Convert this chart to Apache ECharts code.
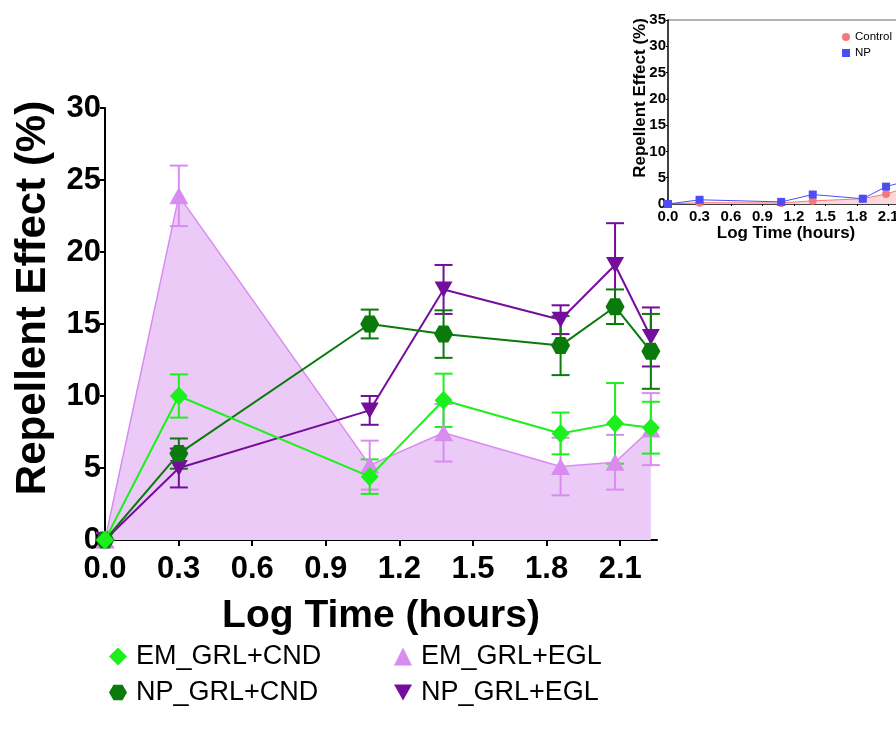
<!DOCTYPE html>
<html>
<head>
<meta charset="utf-8">
<script src="https://cdn.jsdelivr.net/npm/echarts@6/dist/echarts.min.js"></script>
<style>
  html, body { margin: 0; padding: 0; background: #fff; }
  #main { width: 896px; height: 729px; }
</style>
</head>
<body>
<div id="main"></div>
<script>
// log10(hours): 1, 2, 12, 24, 72, 120, 168
var logTime = [0, 0.301, 1.079, 1.380, 1.857, 2.079, 2.225];
var xTicks = [0, 0.3, 0.6, 0.9, 1.2, 1.5, 1.8, 2.1];

var emCnd = [0, 10.0, 4.4, 9.7, 7.4, 8.1, 7.8];
var emCndErr = [0, 1.5, 1.2, 1.85, 1.45, 2.8, 1.8];
var npCnd = [0, 6.0, 15.0, 14.3, 13.5, 16.2, 13.1];
var npCndErr = [0, 1.05, 1.0, 1.65, 2.05, 1.2, 2.6];
var emEgl = [0, 23.9, 5.2, 7.45, 5.1, 5.4, 7.7];
var emEglErr = [0.5, 2.1, 1.7, 2.0, 2.0, 1.9, 2.5];
var npEgl = [0, 5.0, 9.0, 17.4, 15.3, 19.1, 14.1];
var npEglErr = [0, 1.35, 1.0, 1.7, 1.0, 2.9, 2.05];

// inset
var ctrl = [0, 0.25, 0.2, 0.6, 1.0, 1.9, 2.8];
var np = [0, 0.8, 0.4, 1.8, 1.0, 3.3, 4.1];

var FONT = '"Liberation Sans", Arial, sans-serif';
var C_EMCND = '#1cf01c', C_NPCND = '#0a7a0a', C_EMEGL = '#d98cf0', C_NPEGL = '#750d9c';
var HEX = 'path://M0,10 L5,1.34 L15,1.34 L20,10 L15,18.66 L5,18.66 Z';
var DOWN = 'path://M0,0 L20,0 L10,18 Z';

function pts(vals) {
    return logTime.map(function (x, i) { return [x, vals[i]]; });
}
function errs(vals, e) {
    return logTime.map(function (x, i) { return [x, vals[i] - e[i], vals[i] + e[i]]; });
}
function errorBars(name, data, color, cap) {
    return {
        name: name, type: 'custom', data: data, encode: { x: 0, y: [1, 2] }, silent: true,
        renderItem: function (params, api) {
            var x = api.value(0);
            var top = api.coord([x, api.value(2)]);
            var bot = api.coord([x, api.value(1)]);
            var st = { stroke: color, lineWidth: 2 };
            return {
                type: 'group', children: [
                    { type: 'line', shape: { x1: top[0], y1: top[1], x2: bot[0], y2: bot[1] }, style: st },
                    { type: 'line', shape: { x1: top[0] - cap, y1: top[1], x2: top[0] + cap, y2: top[1] }, style: st },
                    { type: 'line', shape: { x1: bot[0] - cap, y1: bot[1], x2: bot[0] + cap, y2: bot[1] }, style: st }
                ]
            };
        }
    };
}
function lineSeries(name, vals, color, symbol, size, z) {
    return {
        name: name, type: 'line', data: pts(vals), color: color,
        symbol: symbol, symbolSize: size, z: z,
        lineStyle: { color: color, width: 2 },
        itemStyle: { color: color }
    };
}

var chart = echarts.init(document.getElementById('main'));

var eglArea = lineSeries('EM_GRL+EGL', emEgl, C_EMEGL, 'triangle', [19, 17], 2);
eglArea.areaStyle = { color: '#ebcaf7', opacity: 1 };
eglArea.lineStyle.width = 1.5;

chart.setOption({
    animation: false,
    backgroundColor: '#fff',
    textStyle: { fontFamily: FONT },
    grid: [
        { left: 105, top: 108, right: 239, bottom: 189, outerBoundsMode: 'none' },
        // inset runs past the right edge of the picture
        { left: 668, top: 20, width: 236, height: 184, outerBoundsMode: 'none' }
    ],
    xAxis: [{
        type: 'value', gridIndex: 0, min: 0, max: 2.25,
        name: 'Log Time (hours)', nameLocation: 'middle', nameGap: 57,
        nameTextStyle: { fontSize: 39, fontWeight: 'bold', color: '#000', fontFamily: FONT },
        splitLine: { show: false },
        axisLine: { lineStyle: { color: '#000', width: 2 } },
        axisTick: { customValues: xTicks, length: 6, lineStyle: { color: '#000', width: 2 } },
        axisLabel: {
            customValues: xTicks, margin: 14, fontSize: 31, fontWeight: 'bold', color: '#000', fontFamily: FONT,
            formatter: function (v) { return v.toFixed(1); }
        }
    }, {
        type: 'value', gridIndex: 1, min: 0, max: 2.25,
        name: 'Log Time (hours)', nameLocation: 'middle', nameGap: 18,
        nameTextStyle: { fontSize: 17, fontWeight: 'bold', color: '#000', fontFamily: FONT },
        splitLine: { show: false },
        axisLine: { lineStyle: { color: '#000', width: 1.5 } },
        axisTick: { customValues: xTicks, length: 2, lineStyle: { color: '#000' } },
        axisLabel: {
            customValues: xTicks, margin: 5, fontSize: 15, fontWeight: 'bold', color: '#000', fontFamily: FONT,
            formatter: function (v) { return v.toFixed(1); }
        }
    }],
    yAxis: [{
        type: 'value', gridIndex: 0, min: 0, max: 30, interval: 5,
        splitLine: { show: false },
        axisLine: { show: true, lineStyle: { color: '#000', width: 2 } },
        axisTick: { show: true, length: 5, lineStyle: { color: '#000', width: 2 } },
        axisLabel: { margin: 4, fontSize: 31, fontWeight: 'bold', color: '#000', fontFamily: FONT }
    }, {
        type: 'value', gridIndex: 1, min: 0, max: 35, interval: 5,
        splitLine: { show: false },
        axisLine: { show: true, lineStyle: { color: '#000', width: 1.5 } },
        axisTick: { show: true, length: 2, lineStyle: { color: '#000' } },
        axisLabel: { margin: 2, fontSize: 15, fontWeight: 'bold', color: '#000', fontFamily: FONT }
    }],
    legend: [{
        orient: 'vertical', left: 104, top: 638, itemGap: 9,
        itemWidth: 18, itemHeight: 18,
        textStyle: { fontSize: 27, color: '#000', fontFamily: FONT, padding: [0, 0, 0, 4] },
        data: [
            { name: 'EM_GRL+CND', icon: 'diamond' },
            { name: 'NP_GRL+CND', icon: HEX }
        ]
    }, {
        orient: 'vertical', left: 389, top: 638, itemGap: 9,
        itemWidth: 18, itemHeight: 18,
        textStyle: { fontSize: 27, color: '#000', fontFamily: FONT, padding: [0, 0, 0, 4] },
        data: [
            { name: 'EM_GRL+EGL', icon: 'triangle' },
            { name: 'NP_GRL+EGL', icon: DOWN }
        ]
    }, {
        orient: 'vertical', left: 837, top: 26, itemGap: 4,
        itemWidth: 8, itemHeight: 8,
        textStyle: { fontSize: 11.5, color: '#000', fontFamily: FONT },
        data: [
            { name: 'Control', icon: 'circle' },
            { name: 'NP', icon: 'rect' }
        ]
    }],
    graphic: [{
        type: 'text', x: 33, y: 298, rotation: Math.PI / 2,
        style: {
            text: 'Repellent Effect (%)', fill: '#000', font: 'bold 42px ' + FONT,
            align: 'center', verticalAlign: 'middle'
        }
    }, {
        type: 'text', x: 640, y: 98, rotation: Math.PI / 2,
        style: {
            text: 'Repellent Effect (%)', fill: '#000', font: 'bold 17px ' + FONT,
            align: 'center', verticalAlign: 'middle'
        }
    }, {
        // top frame of the inset panel
        type: 'line', shape: { x1: 668, y1: 20, x2: 896, y2: 20 },
        style: { stroke: '#666', lineWidth: 1 }
    }],
    series: [
        eglArea,
        errorBars('EM_GRL+EGL', errs(emEgl, emEglErr), C_EMEGL, 9),
        lineSeries('NP_GRL+EGL', npEgl, C_NPEGL, DOWN, [18, 16], 3),
        errorBars('NP_GRL+EGL', errs(npEgl, npEglErr), C_NPEGL, 9),
        lineSeries('NP_GRL+CND', npCnd, C_NPCND, HEX, [19, 17], 4),
        errorBars('NP_GRL+CND', errs(npCnd, npCndErr), C_NPCND, 9),
        lineSeries('EM_GRL+CND', emCnd, C_EMCND, 'diamond', [18, 19], 5),
        errorBars('EM_GRL+CND', errs(emCnd, emCndErr), C_EMCND, 9),
        {
            name: 'Control', type: 'line', xAxisIndex: 1, yAxisIndex: 1, data: pts(ctrl),
            symbol: 'circle', symbolSize: 8, color: '#f47a7a',
            lineStyle: { color: '#f47a7a', width: 1 }, itemStyle: { color: '#f47a7a' },
            areaStyle: { color: '#fbd9d9', opacity: 1 }
        },
        {
            name: 'NP', type: 'line', xAxisIndex: 1, yAxisIndex: 1, data: pts(np),
            symbol: 'rect', symbolSize: 8, color: '#4d4df5',
            lineStyle: { color: '#4d4df5', width: 1 }, itemStyle: { color: '#4d4df5' }
        }
    ]
});
</script>
</body>
</html>
